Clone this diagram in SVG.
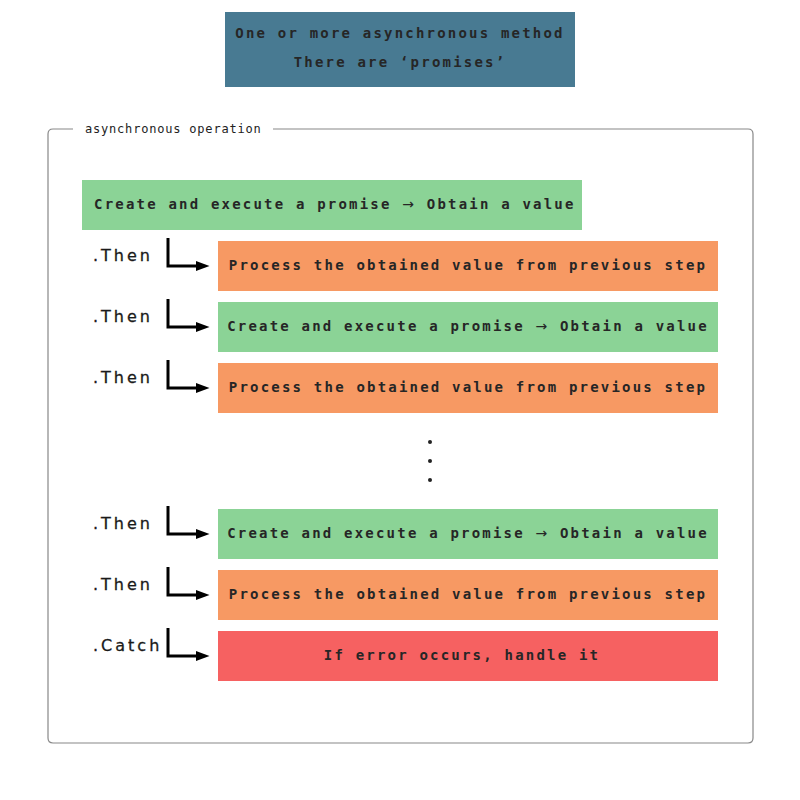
<svg xmlns="http://www.w3.org/2000/svg" width="800" height="800" viewBox="0 0 800 800">
<style>
.mono{font-family:"DejaVu Sans Mono","Liberation Mono",monospace;font-weight:bold;font-size:14px;letter-spacing:2.2px;fill:#262626;dominant-baseline:central}
.arr{font-family:"DejaVu Sans",sans-serif;font-weight:normal}
.lbl{font-family:"DejaVu Sans","Noto Sans",sans-serif;font-size:16px;font-weight:500;letter-spacing:3px;fill:#1a1a1a;stroke:#1a1a1a;stroke-width:0.3;dominant-baseline:central}
.leg{font-family:"DejaVu Sans Mono","Liberation Mono",monospace;font-size:12px;letter-spacing:0.8px;fill:#222;dominant-baseline:central}
.g{fill:#8bd396}.o{fill:#f79963}.r{fill:#f66161}
.conn{fill:none;stroke:#000;stroke-width:3}
</style>
<defs>
<marker id="ah" markerWidth="4.5" markerHeight="4" refX="2" refY="2" orient="auto" markerUnits="strokeWidth">
<path d="M0,0.3 L4.5,2 L0,3.7 Z" fill="#000"/>
</marker>
</defs>
<rect width="800" height="800" fill="#fff"/>
<g id="header">
<rect x="225" y="12" width="350" height="75" fill="#487a92"/>
<text class="mono" x="400" y="33" text-anchor="middle" style="font-weight:600">One or more asynchronous method</text>
<text class="mono" x="400" y="62" text-anchor="middle" style="font-weight:600">There are ‘promises’</text>
</g>
<g id="group">
<path d="M73,129 H53 Q48,129 48,134 V738 Q48,743 53,743 H748 Q753,743 753,738 V134 Q753,129 748,129 H273" fill="none" stroke="#888" stroke-width="1.2"/>
<text class="leg" x="85" y="129">asynchronous operation</text>
</g>
<g id="start">
<rect class="g" x="82" y="180" width="500" height="50"/>
<text class="mono" x="94" y="204">Create and execute a promise <tspan class="arr">→</tspan> Obtain a value</text>
</g>
<g id="step1">
<text class="lbl" x="93" y="255">.Then</text>
<rect class="o" x="218" y="241" width="500" height="50"/>
<text class="mono" x="468" y="265" text-anchor="middle">Process the obtained value from previous step</text>
</g>
<g id="step2">
<text class="lbl" x="93" y="316">.Then</text>
<rect class="g" x="218" y="302" width="500" height="50"/>
<text class="mono" x="468" y="326" text-anchor="middle">Create and execute a promise <tspan class="arr">→</tspan> Obtain a value</text>
</g>
<g id="step3">
<text class="lbl" x="93" y="377">.Then</text>
<rect class="o" x="218" y="363" width="500" height="50"/>
<text class="mono" x="468" y="387" text-anchor="middle">Process the obtained value from previous step</text>
</g>
<g id="ellipsis" fill="#222">
<circle cx="430" cy="442" r="2"/>
<circle cx="430" cy="461" r="2"/>
<circle cx="430" cy="480" r="2"/>
</g>
<g id="step4">
<text class="lbl" x="93" y="523">.Then</text>
<rect class="g" x="218" y="509" width="500" height="50"/>
<text class="mono" x="468" y="533" text-anchor="middle">Create and execute a promise <tspan class="arr">→</tspan> Obtain a value</text>
</g>
<g id="step5">
<text class="lbl" x="93" y="584">.Then</text>
<rect class="o" x="218" y="570" width="500" height="50"/>
<text class="mono" x="468" y="594" text-anchor="middle">Process the obtained value from previous step</text>
</g>
<g id="catch">
<text class="lbl" x="93" y="645">.Catch</text>
<rect class="r" x="218" y="631" width="500" height="50"/>
<text class="mono" x="462" y="655" text-anchor="middle">If error occurs, handle it</text>
</g>
<g id="connectors">
<path class="conn" d="M168,238 V266 H202" marker-end="url(#ah)"/>
<path class="conn" d="M168,299 V327 H202" marker-end="url(#ah)"/>
<path class="conn" d="M168,360 V388 H202" marker-end="url(#ah)"/>
<path class="conn" d="M168,506 V534 H202" marker-end="url(#ah)"/>
<path class="conn" d="M168,567 V595 H202" marker-end="url(#ah)"/>
<path class="conn" d="M168,628 V656 H202" marker-end="url(#ah)"/>
</g>
</svg>
